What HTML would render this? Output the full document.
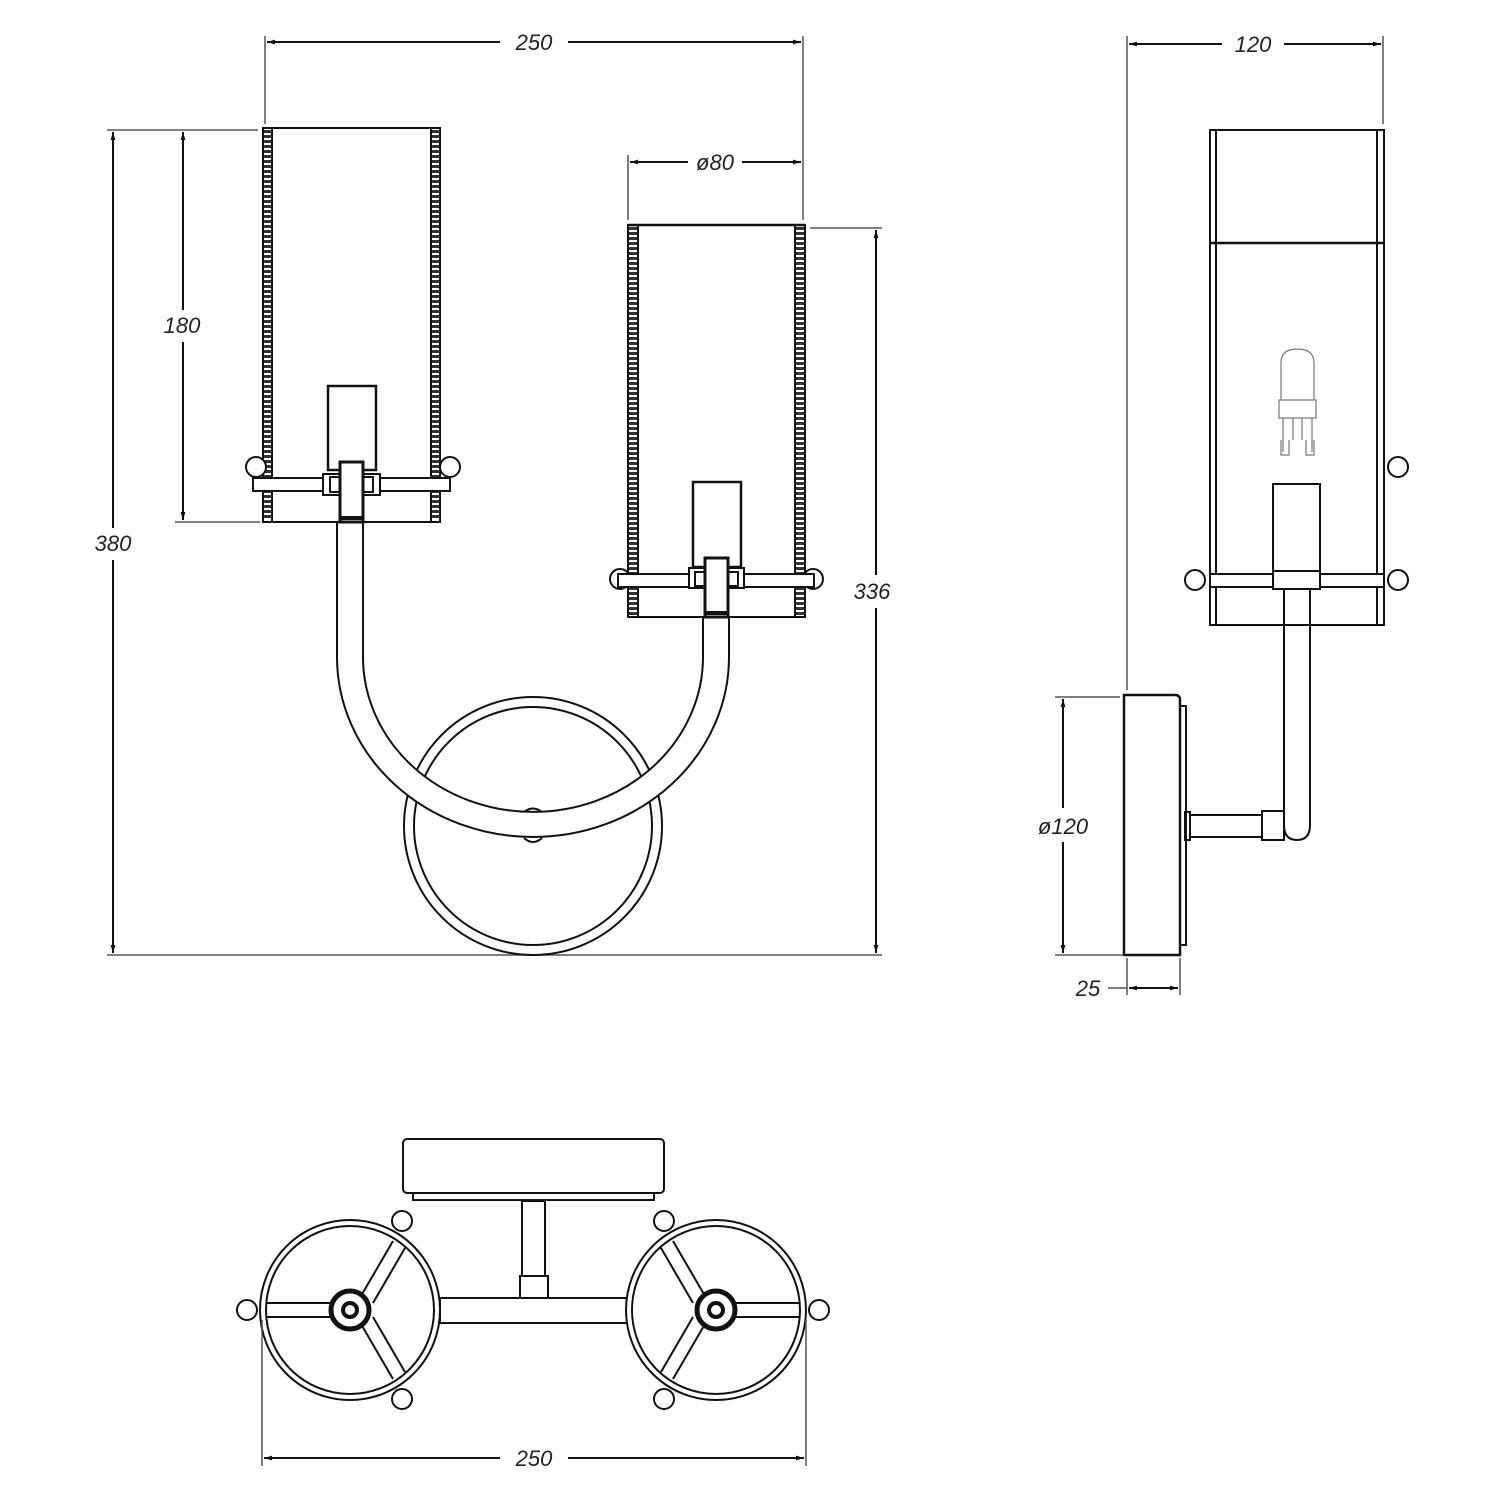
<!DOCTYPE html>
<html><head><meta charset="utf-8"><style>
html,body{margin:0;padding:0;background:#fff;}
svg{display:block;}
text{font-family:"Liberation Sans",sans-serif;font-style:italic;font-size:22px;fill:#222;stroke:none;}
</style></head><body>
<svg width="1500" height="1500" viewBox="0 0 1500 1500" xmlns="http://www.w3.org/2000/svg">
<defs>
<marker id="a" viewBox="0 0 10 10" refX="10" refY="5" markerWidth="14" markerHeight="8" markerUnits="userSpaceOnUse" orient="auto-start-reverse"><path d="M0,2 L10,5 L0,8 z" fill="#111" stroke="none"/></marker>
</defs>
<g fill="none" stroke="#111" stroke-width="2">
<g stroke="#555" stroke-width="1.5">
<line x1="265" y1="36" x2="265" y2="124"/>
<line x1="803" y1="36" x2="803" y2="220"/>
<line x1="628" y1="155" x2="628" y2="220"/>
<line x1="107" y1="130" x2="258" y2="130"/>
<line x1="175" y1="522" x2="260" y2="522"/>
<line x1="810" y1="228" x2="882" y2="228"/>
<line x1="107" y1="955" x2="882" y2="955"/>
</g>
<line x1="267" y1="42" x2="500" y2="42" marker-start="url(#a)"/>
<line x1="568" y1="42" x2="801" y2="42" marker-end="url(#a)"/>
<line x1="630" y1="162" x2="688" y2="162" marker-start="url(#a)"/>
<line x1="742" y1="162" x2="801" y2="162" marker-end="url(#a)"/>
<line x1="183" y1="132" x2="183" y2="310" marker-start="url(#a)"/>
<line x1="183" y1="342" x2="183" y2="520" marker-end="url(#a)"/>
<line x1="113" y1="132" x2="113" y2="528" marker-start="url(#a)"/>
<line x1="113" y1="560" x2="113" y2="953" marker-end="url(#a)"/>
<line x1="876" y1="230" x2="876" y2="575" marker-start="url(#a)"/>
<line x1="876" y1="608" x2="876" y2="953" marker-end="url(#a)"/>
</g>
<text x="534" y="50" text-anchor="middle">250</text>
<text x="715" y="170" text-anchor="middle">ø80</text>
<text x="182" y="333" text-anchor="middle">180</text>
<text x="113" y="551" text-anchor="middle">380</text>
<text x="872" y="599" text-anchor="middle">336</text>

<g fill="none" stroke="#111" stroke-width="2">
<circle cx="533" cy="826" r="129"/>
<circle cx="533" cy="826" r="119"/>
<path d="M337,522 L337,657 A196,180 0 0 0 729,657 L729,617 L703,617 L703,657 A170,155 0 0 1 363,657 L363,522 Z" fill="#fff"/>
<path d="M524,812 Q533,805 542,812" />
<path d="M524,838 Q533,846 542,838" />

<rect x="263" y="128" width="177" height="394" fill="#fff"/>
<g stroke="#333" stroke-width="8" stroke-dasharray="3 2">
<line x1="267.5" y1="130" x2="267.5" y2="520"/>
<line x1="435.5" y1="130" x2="435.5" y2="520"/>
</g>
<line x1="263" y1="128" x2="263" y2="522"/><line x1="272" y1="128" x2="272" y2="522"/>
<line x1="431" y1="128" x2="431" y2="522"/><line x1="440" y1="128" x2="440" y2="522"/>
<rect x="328" y="386" width="48" height="84" stroke-width="2.5" fill="#fff"/>
<circle cx="256" cy="467" r="10" fill="#fff"/>
<circle cx="450" cy="467" r="10" fill="#fff"/>
<rect x="253" y="478" width="197" height="13" fill="#fff"/>
<rect x="323" y="474" width="57" height="21" fill="#fff"/>
<rect x="330" y="477" width="43" height="15"/>
<rect x="340" y="462" width="23" height="60" stroke-width="3" fill="#fff"/>
<line x1="340" y1="518" x2="363" y2="518" stroke-width="4"/>

<rect x="628" y="225" width="177" height="392" fill="#fff"/>
<g stroke="#333" stroke-width="8" stroke-dasharray="3 2">
<line x1="633" y1="227" x2="633" y2="615"/>
<line x1="800" y1="227" x2="800" y2="615"/>
</g>
<line x1="628" y1="225" x2="628" y2="617"/><line x1="638" y1="225" x2="638" y2="617"/>
<line x1="795" y1="225" x2="795" y2="617"/><line x1="805" y1="225" x2="805" y2="617"/>
<line x1="628" y1="225" x2="805" y2="225" stroke-width="2.5"/>
<rect x="693" y="482" width="48" height="85" stroke-width="2.5" fill="#fff"/>
<circle cx="620" cy="579" r="10" fill="#fff"/>
<circle cx="813" cy="579" r="10" fill="#fff"/>
<rect x="618" y="574" width="196" height="13" fill="#fff"/>
<rect x="689" y="568" width="55" height="20" fill="#fff"/>
<rect x="695" y="572" width="43" height="14"/>
<rect x="705" y="558" width="23" height="59" stroke-width="3" fill="#fff"/>
<line x1="705" y1="613" x2="728" y2="613" stroke-width="4"/>
</g>

<g fill="none" stroke="#111" stroke-width="2">
<g stroke="#555" stroke-width="1.5">
<line x1="1127" y1="36" x2="1127" y2="690"/>
<line x1="1383" y1="36" x2="1383" y2="124"/>
<line x1="1055" y1="697" x2="1120" y2="697"/>
<line x1="1055" y1="955" x2="1124" y2="955"/>
<line x1="1127" y1="958" x2="1127" y2="995"/>
<line x1="1180" y1="958" x2="1180" y2="995"/>
<line x1="1108" y1="988" x2="1127" y2="988"/>
</g>
<line x1="1129" y1="44" x2="1222" y2="44" marker-start="url(#a)"/>
<line x1="1284" y1="44" x2="1381" y2="44" marker-end="url(#a)"/>
<line x1="1063" y1="699" x2="1063" y2="808" marker-start="url(#a)"/>
<line x1="1063" y1="842" x2="1063" y2="953" marker-end="url(#a)"/>
<line x1="1146" y1="988" x2="1129" y2="988" marker-end="url(#a)"/>
<line x1="1160" y1="988" x2="1178" y2="988" marker-end="url(#a)"/>
<line x1="1146" y1="988" x2="1160" y2="988"/>
</g>
<text x="1253" y="52" text-anchor="middle">120</text>
<text x="1063" y="834" text-anchor="middle">ø120</text>
<text x="1088" y="996" text-anchor="middle">25</text>

<g fill="none" stroke="#111" stroke-width="2">
<rect x="1210" y="130" width="174" height="495"/>
<line x1="1216" y1="130" x2="1216" y2="625"/>
<line x1="1377" y1="130" x2="1377" y2="625"/>
<line x1="1210" y1="243" x2="1384" y2="243" stroke-width="2.5"/>
<g stroke="#777" stroke-width="1.2">
<path d="M1281,400 L1281,363 Q1281,349 1297,349 Q1314,349 1314,363 L1314,400"/>
<rect x="1279" y="400" width="37" height="18"/>
<path d="M1283,418 L1283,452 M1312,418 L1312,452 M1293,418 L1293,440 M1302,418 L1302,440"/>
<path d="M1281,440 L1281,455 L1289,455 L1289,440 M1306,440 L1306,455 L1314,455 L1314,440"/>
</g>
<rect x="1273" y="484" width="47" height="87"/>
<circle cx="1195" cy="580" r="10"/>
<circle cx="1398" cy="580" r="10"/>
<circle cx="1398" cy="467" r="10"/>
<rect x="1210" y="574" width="174" height="13" fill="#fff"/>
<rect x="1273" y="571" width="47" height="18" fill="#fff"/>
<path d="M1284,589 L1284,825 Q1284,840 1297,840 Q1310,840 1310,825 L1310,589"/>
<rect x="1190" y="815" width="72" height="22"/>
<rect x="1262" y="811" width="22" height="29"/>
<rect x="1185" y="812" width="5" height="28"/>
<path d="M1124,955 L1124,695 L1175,695 Q1180,695 1180,700 L1180,955 Z" stroke-width="2.5"/>
<rect x="1180" y="706" width="6" height="239"/>

<rect x="403" y="1139" width="261" height="54" rx="4"/>
<rect x="413" y="1193" width="241" height="7"/>
<rect x="522" y="1201" width="23" height="75"/>
<rect x="520" y="1276" width="28" height="22"/>
<rect x="440" y="1298" width="190" height="25" fill="#fff"/>

<g id="w">
<circle cx="350" cy="1310" r="90" fill="#fff"/>
<circle cx="350" cy="1310" r="84"/>
<path d="M266,1303 L334,1303 M266,1317 L334,1317"/>
<path d="M361,1296 L393,1241 M373,1303 L405,1248"/>
<path d="M361,1324 L393,1379 M373,1317 L405,1372"/>
<circle cx="350" cy="1310" r="19" stroke-width="5"/>
<circle cx="350" cy="1310" r="7" stroke-width="4"/>
<circle cx="247" cy="1310" r="10" fill="#fff"/>
<circle cx="402" cy="1221" r="10" fill="#fff"/>
<circle cx="402" cy="1399" r="10" fill="#fff"/>
</g>
<use href="#w" transform="translate(1066,0) scale(-1,1)"/>

<g stroke="#555" stroke-width="1.5">
<line x1="262" y1="1320" x2="262" y2="1466"/>
<line x1="806" y1="1320" x2="806" y2="1466"/>
</g>
<line x1="264" y1="1458" x2="500" y2="1458" marker-start="url(#a)"/>
<line x1="568" y1="1458" x2="804" y2="1458" marker-end="url(#a)"/>
</g>
<text x="534" y="1466" text-anchor="middle">250</text>
</svg>
</body></html>
